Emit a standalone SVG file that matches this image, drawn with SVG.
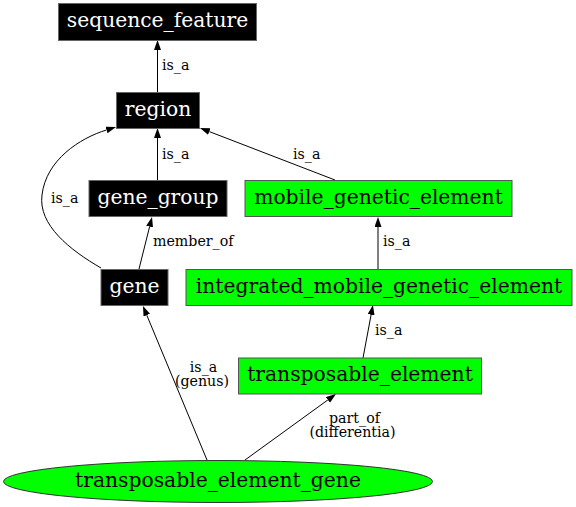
<svg xmlns="http://www.w3.org/2000/svg" width="576" height="507" viewBox="0 0 576 507">
<style>
.nt{font-family:"DejaVu Serif","Liberation Serif",serif;font-size:20.3px;text-anchor:middle}
.w{fill:#ffffff}
.k{fill:#000000}
.el{font-family:"DejaVu Serif","Liberation Serif",serif;font-size:14.2px;fill:#000}
.elm{text-anchor:middle}
.bx{fill:#000;stroke:#666;stroke-width:1}
.gx{fill:#00ff00;stroke:#555;stroke-width:1}
.e{fill:none;stroke:#000;stroke-width:1;marker-end:url(#ah)}
</style>
<defs>
<marker id="ah" markerUnits="userSpaceOnUse" markerWidth="11" markerHeight="8" refX="0" refY="3.5" orient="auto">
<path d="M0,0 L10,3.5 L0,7 z" fill="#000"/>
</marker>
</defs>
<rect width="576" height="507" fill="#fff"/>
<g id="connectors">
<path class="e" d="M157.5,92 L157.5,50"/>
<path class="e" d="M157.5,180 L157.5,138"/>
<path class="e" d="M335,180 L209.3,131.6"/>
<path class="e" d="M101,268 C70,250 38,225 42,195 C46,160 80,138 106.5,130"/>
<path class="e" d="M139,269 L149.6,226.7"/>
<path class="e" d="M378,269 L378,227"/>
<path class="e" d="M363,358 L371.1,314.8"/>
<path class="e" d="M207,460 L146.8,315.2"/>
<path class="e" d="M245,460 L327.9,399.9"/>
<text class="el" x="162" y="70">is_a</text>
<text class="el" x="162" y="159">is_a</text>
<text class="el" x="51" y="203">is_a</text>
<text class="el" x="293" y="159">is_a</text>
<text class="el" x="153" y="246">member_of</text>
<text class="el" x="383" y="246">is_a</text>
<text class="el" x="375" y="335">is_a</text>
<text class="el elm" x="203.5" y="371.5">is_a</text>
<text class="el elm" x="202" y="386">(genus)</text>
<text class="el elm" x="354.5" y="422.5">part_of</text>
<text class="el elm" x="352.5" y="437">(differentia)</text>
</g>
<g id="sequence_feature">
<rect class="bx" x="58.5" y="3.5" width="198" height="37"/>
<text class="nt w" x="157.5" y="27">sequence_feature</text>
</g>
<g id="region">
<rect class="bx" x="116.5" y="92.5" width="83" height="36"/>
<text class="nt w" x="158" y="116">region</text>
</g>
<g id="gene_group">
<rect class="bx" x="89" y="180.5" width="138" height="36"/>
<text class="nt w" x="158" y="204">gene_group</text>
</g>
<g id="mobile_genetic_element">
<rect class="gx" x="245" y="180.5" width="267" height="36"/>
<text class="nt k" x="378.5" y="204">mobile_genetic_element</text>
</g>
<g id="gene">
<rect class="bx" x="101" y="269.5" width="67" height="36"/>
<text class="nt w" x="134.5" y="293">gene</text>
</g>
<g id="integrated_mobile_genetic_element">
<rect class="gx" x="186" y="269.5" width="386" height="36"/>
<text class="nt k" x="379" y="293">integrated_mobile_genetic_element</text>
</g>
<g id="transposable_element">
<rect class="gx" x="238.5" y="358" width="243" height="36"/>
<text class="nt k" x="360" y="381">transposable_element</text>
</g>
<g id="transposable_element_gene">
<ellipse fill="#00ff00" stroke="#333" cx="218" cy="481.5" rx="214.5" ry="21"/>
<text class="nt k" x="218" y="487">transposable_element_gene</text>
</g>
</svg>
